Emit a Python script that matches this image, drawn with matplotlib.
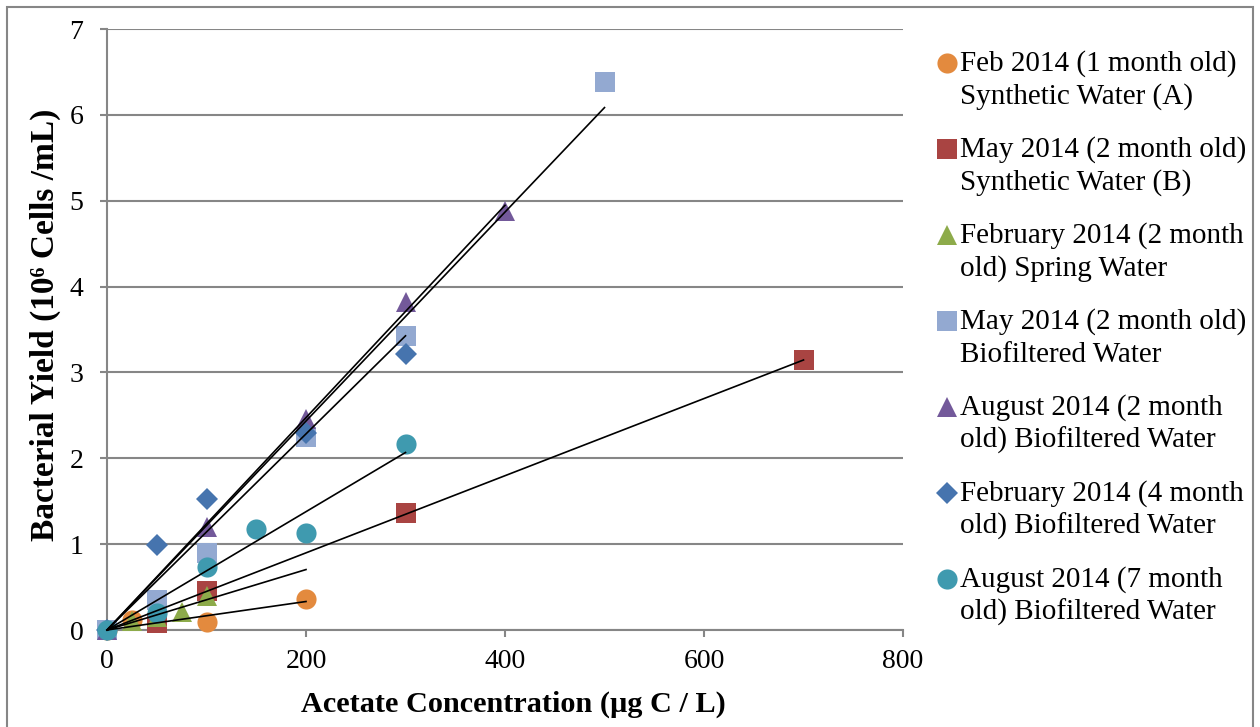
import matplotlib.pyplot as plt
from matplotlib.lines import Line2D
from matplotlib.patches import Rectangle
import numpy as np

plt.rcParams['font.family'] = ['Liberation Serif', 'DejaVu Serif']

labels = ['Feb 2014 (1 month old)\nSynthetic Water (A)',
          'May 2014 (2 month old)\nSynthetic Water (B)',
          'February 2014 (2 month\nold) Spring Water',
          'May 2014 (2 month old)\nBiofiltered Water',
          'August 2014 (2 month\nold) Biofiltered Water',
          'February 2014 (4 month\nold) Biofiltered Water',
          'August 2014 (7 month\nold) Biofiltered Water']

feb_syn_x = [0, 25, 100, 200]
feb_syn_y = [0, 0.12, 0.09, 0.36]
may_syn_x = [0, 50, 100, 300, 700]
may_syn_y = [0, 0.08, 0.45, 1.36, 3.15]
feb_spring_x = [0, 25, 50, 75, 100]
feb_spring_y = [0, 0.11, 0.15, 0.21, 0.40]
may_bio_x = [0, 50, 100, 200, 300, 500]
may_bio_y = [0, 0.35, 0.90, 2.25, 3.43, 6.38]
aug2_bio_x = [0, 100, 200, 300, 400]
aug2_bio_y = [0, 1.20, 2.46, 3.82, 4.88]
feb4_bio_x = [0, 50, 100, 200, 300]
feb4_bio_y = [0, 0.99, 1.52, 2.30, 3.22]
aug7_bio_x = [0, 50, 100, 150, 200, 300]
aug7_bio_y = [0, 0.20, 0.73, 1.18, 1.13, 2.17]

# trendline end (forecast forward to this x)
trend_end = [200, 700, 200, 500, 400, 300, 300]

xs = [feb_syn_x, may_syn_x, feb_spring_x, may_bio_x, aug2_bio_x, feb4_bio_x, aug7_bio_x]
ys = [feb_syn_y, may_syn_y, feb_spring_y, may_bio_y, aug2_bio_y, feb4_bio_y, aug7_bio_y]
colors = ['#E38A3E', '#A94442', '#8DAB4A', '#93A9D1', '#73599A', '#4674AE', '#3F9AAF']
markers = ['o', 's', '^', 's', '^', 'D', 'o']
msizes = [14.5, 14, 14.5, 14, 14.5, 11.5, 14.5]

W, H = 1260, 727
fig = plt.figure(figsize=(W / 100, H / 100), dpi=100)
ax = fig.add_axes([107 / W, 1 - 630 / H, (903 - 107) / W, (630 - 29) / H])

for x, y, c, m, s in zip(xs, ys, colors, markers, msizes):
    ax.plot(x, y, linestyle='none', marker=m, color=c, markersize=s,
            markeredgewidth=0, clip_on=False, zorder=3)

# linear trendlines through origin
for x, y, xe in zip(xs, ys, trend_end):
    x = np.array(x, float)
    y = np.array(y, float)
    k = (x * y).sum() / (x * x).sum()
    ax.plot([0, xe], [0, k * xe], color='black', lw=1.2, zorder=4, clip_on=False)

ax.set_xlim(0, 800)
ax.set_ylim(0, 7)
ax.set_xticks(range(0, 801, 200))
ax.set_yticks(range(0, 8))
ax.grid(axis='y', color='#868686', lw=1.5)
ax.set_axisbelow(True)
for s in ['top', 'right']:
    ax.spines[s].set_visible(False)
for s in ['left', 'bottom']:
    ax.spines[s].set_color('#868686')
    ax.spines[s].set_linewidth(1.5)
ax.tick_params(axis='both', colors='#868686', labelcolor='black', labelsize=20,
               length=5, width=1.5)
ax.tick_params(axis='y', pad=12)
ax.tick_params(axis='x', pad=9)
ax.set_xlabel('Acetate Concentration (µg C / L)', fontsize=21.8, fontweight='bold', labelpad=12)
ax.set_ylabel('Bacterial Yield (10⁶ Cells /mL)', fontsize=24, fontweight='bold', labelpad=6)
ax.xaxis.label.set_x(0.51)
ax.yaxis.label.set_y(0.507)

# legend drawn by hand so the marker sits on the first line
for i, (lab, c, m, s) in enumerate(zip(labels, colors, markers, msizes)):
    base = 71 + 86 * i
    fig.add_artist(Line2D([947 / W], [1 - (base - 8) / H], marker=m, color=c,
                          markersize=s, markeredgewidth=0, transform=fig.transFigure))
    for j, line in enumerate(lab.split('\n')):
        fig.text(960 / W, 1 - (base + 33 * j) / H, line, fontsize=21, va='baseline', ha='left')

fig.add_artist(Rectangle((7 / W, -0.02), (1253 - 7) / W, 1 - 7 / H + 0.02, fill=False,
                         edgecolor='#868686', lw=1.5, transform=fig.transFigure))

fig.savefig('out.png', dpi=100)
